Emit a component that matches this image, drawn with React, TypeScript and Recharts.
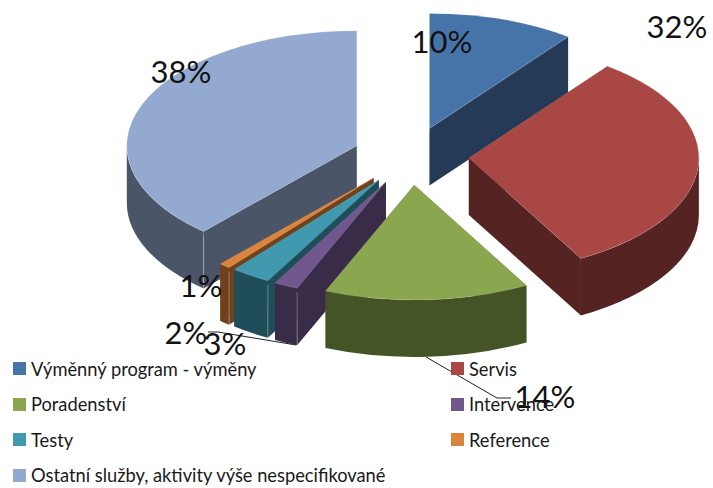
import { PieChart, Pie, Legend } from "recharts";

const categories = [
  "Výměnný program - výměny",
  "Servis",
  "Poradenství",
  "Intervence",
  "Testy",
  "Reference",
  "Ostatní služby, aktivity výše nespecifikované",
];
const shares = [10.3, 31.6, 14.4, 1.7, 2.8, 0.8, 38.4];
const topColors = ["#4674A8", "#A94745", "#8AA64F", "#70588F", "#4099AF", "#DB843D", "#93A9CF"];
const wallColors = ["#243A56", "#552321", "#455427", "#392C48", "#1F4D59", "#6F421C", "#4B5568"];

// painter's order, back to front
const drawOrder = [6, 0, 1, 5, 4, 3, 2];

const data = categories.map((name, i) => ({ name, value: shares[i] }));

const SQUASH = 0.5;
const DEPTH = 57;
const EXPLODE = 58;

// manually placed labels, as in the original chart: [x, baseline y]
const labelSpots = [
  [442, 53],
  [677, 38],
  [545, 408],
  [186, 344],
  [225, 355],
  [201, 297],
  [181, 83],
];

const rad = (d: number) => (d * Math.PI) / 180;

const makeSlice = (only: number) => (props: any) => {
  const { cx, cy, outerRadius: r, startAngle, endAngle, name } = props;
  const idx = categories.indexOf(name);
  if (idx !== only) return <g />;

  // recharts angles -> clockwise from 12 o'clock
  const a0 = 90 - startAngle;
  const a1 = 90 - endAngle;
  const mid = (a0 + a1) / 2;
  const ox = cx + EXPLODE * Math.sin(rad(mid));
  const oy = cy - EXPLODE * SQUASH * Math.cos(rad(mid));
  const ry = r * SQUASH;
  const pt = (a: number, dy = 0) => [ox + r * Math.sin(rad(a)), oy - ry * Math.cos(rad(a)) + dy];
  const [x0, y0] = pt(a0);
  const [x1, y1] = pt(a1);
  const large = a1 - a0 > 180 ? 1 : 0;
  const wall = wallColors[idx];

  // outer rim only shows on the lower half of the ellipse
  const w0 = Math.max(a0, 90);
  const w1 = Math.min(a1, 270);
  let rim = null;
  if (w1 > w0) {
    const [ax, ay] = pt(w0);
    const [bx, by] = pt(w1);
    rim = (
      <path
        d={`M${ax},${ay} A${r},${ry} 0 0 1 ${bx},${by} L${bx},${by + DEPTH} A${r},${ry} 0 0 0 ${ax},${ay + DEPTH} Z`}
        fill={wall}
      />
    );
  }

  return (
    <g>
      <path d={`M${ox},${oy} L${x0},${y0} L${x0},${y0 + DEPTH} L${ox},${oy + DEPTH} Z`} fill={wall} />
      <path d={`M${ox},${oy} L${x1},${y1} L${x1},${y1 + DEPTH} L${ox},${oy + DEPTH} Z`} fill={wall} />
      {rim}
      {a0 > 180 && (
        <line x1={x0} y1={y0 + 4} x2={x0} y2={y0 + DEPTH} stroke="#FFFFFF" strokeOpacity={0.3} />
      )}
      <path
        d={`M${ox},${oy} L${x0},${y0} A${r},${ry} 0 ${large} 1 ${x1},${y1} Z`}
        fill={topColors[idx]}
        stroke="#FFFFFF"
        strokeOpacity={0.25}
        strokeWidth={0.5}
      />
    </g>
  );
};

const renderLabel = (props: any) => {
  const i = categories.indexOf(props.name);
  const [x, y] = labelSpots[i];
  return (
    <text x={x} y={y} textAnchor="middle" fontFamily="Lato" fontSize={31} fill="#111111">
      {Math.round(props.percent * 100)}%
    </text>
  );
};

const LegendBox = () => (
  <div
    style={{
      display: "grid",
      gridTemplateColumns: "438px 262px",
      gridAutoRows: "35.5px",
      paddingLeft: 13,
      fontFamily: "Lato",
      fontSize: 18.3,
      color: "#1a1a1a",
    }}
  >
    {categories.map((name, i) => (
      <div key={name} style={{ display: "flex", alignItems: "center", whiteSpace: "nowrap" }}>
        <span style={{ width: 13, height: 13, background: topColors[i], marginRight: 5 }} />
        {name}
      </div>
    ))}
  </div>
);

export default function App() {
  return (
    <div style={{ position: "absolute", left: 0, top: 0 }}>
      <PieChart width={713} height={488} margin={{ top: 0, right: 0, bottom: 0, left: 0 }}>
        {drawOrder.map((idx) => (
          <Pie
            key={idx}
            data={data}
            dataKey="value"
            nameKey="name"
            cx={411}
            cy={156}
            outerRadius={230}
            startAngle={90}
            endAngle={-270}
            stroke="none"
            isAnimationActive={false}
            shape={makeSlice(idx)}
            activeShape={makeSlice(idx)}
            label={false}
          />
        ))}
        <Pie
          data={data}
          dataKey="value"
          nameKey="name"
          cx={411}
          cy={156}
          outerRadius={230}
          startAngle={90}
          endAngle={-270}
          isAnimationActive={false}
          shape={() => <g />}
          activeShape={() => <g />}
          labelLine={false}
          label={renderLabel}
        />
        <polyline points="426,357 497,398 511,398" fill="none" stroke="#222222" strokeWidth={1} />
        <polyline points="208,332 218,332 296,345" fill="none" stroke="#222222" strokeWidth={1} />
        <Legend
          content={LegendBox}
          wrapperStyle={{ left: 0, top: 351, width: 713 }}
        />
      </PieChart>
    </div>
  );
}
